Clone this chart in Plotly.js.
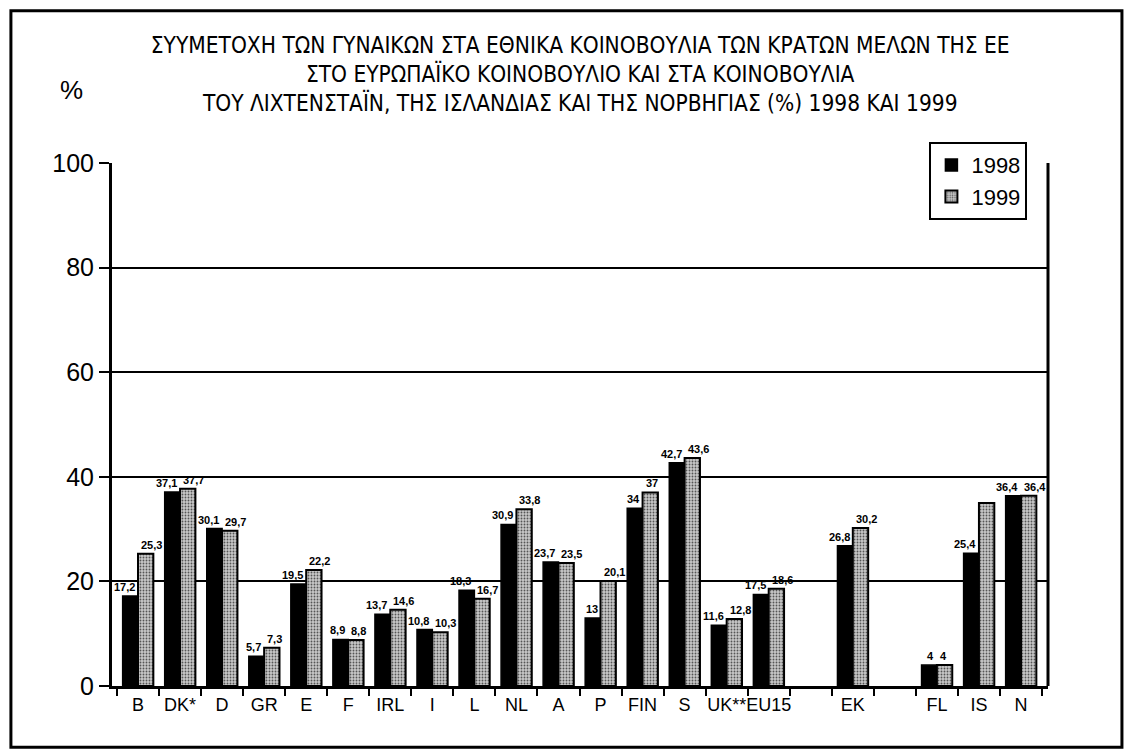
<!DOCTYPE html>
<html>
<head>
<meta charset="utf-8">
<script src="https://cdn.plot.ly/plotly-3.0.1.min.js"></script>
<style>
html,body{margin:0;padding:0;background:#fff;}
#chart{width:1131px;height:754px;}
</style>
</head>
<body>
<div id="chart"></div>
<script>
// Categories (blank entries are empty gaps in the original layout)
const categories = ['B','DK*','D','GR','E','F','IRL','I','L','NL','A','P','FIN','S','UK**','EU15',' ','EK','  ','FL','IS','N'];
const values1998 = [17.2,37.1,30.1,5.7,19.5,8.9,13.7,10.8,18.3,30.9,23.7,13,34,42.7,11.6,17.5,null,26.8,null,4,25.4,36.4];
const values1999 = [25.3,37.7,29.7,7.3,22.2,8.8,14.6,10.3,16.7,33.8,23.5,20.1,37,43.6,12.8,18.6,null,30.2,null,4,35,36.4];
const labels1998 = ['17,2','37,1','30,1','5,7','19,5','8,9','13,7','10,8','18,3','30,9','23,7','13','34','42,7','11,6','17,5','','26,8','','4','25,4','36,4'];
const labels1999 = ['25,3','37,7','29,7','7,3','22,2','8,8','14,6','10,3','16,7','33,8','23,5','20,1','37','43,6','12,8','18,6','','30,2','','4','','36,4'];
const seriesNames = ['1998','1999'];
const yTicks = [0,20,40,60,80,100];

const titleText = 'ΣΥΥΜΕΤΟΧΗ ΤΩΝ ΓΥΝΑΙΚΩΝ ΣΤΑ ΕΘΝΙΚΑ ΚΟΙΝΟΒΟΥΛΙΑ ΤΩΝ ΚΡΑΤΩΝ ΜΕΛΩΝ ΤΗΣ ΕΕ<br>' +
  'ΣΤΟ ΕΥΡΩΠΑΪΚΟ ΚΟΙΝΟΒΟΥΛΙΟ ΚΑΙ ΣΤΑ ΚΟΙΝΟΒΟΥΛΙΑ<br>' +
  'ΤΟΥ ΛΙΧΤΕΝΣΤΑΪΝ, ΤΗΣ ΙΣΛΑΝΔΙΑΣ ΚΑΙ ΤΗΣ ΝΟΡΒΗΓΙΑΣ (%) 1998 ΚΑΙ 1999';

const narrow = 'Liberation Sans Narrow, DejaVu Sans Condensed, Arial Narrow, sans-serif';
const sans = 'Liberation Sans, Arial, sans-serif';
const labelFont = {family: sans, size: 11, color: '#000', weight: 'bold'};

const traces = [
  {
    type: 'bar', name: seriesNames[0], x: categories, y: values1998,
    hoverinfo: 'x+y',
    marker: {color: '#000', line: {color: '#000', width: 1.5}}
  },
  {
    type: 'bar', name: seriesNames[1], x: categories, y: values1999,
    hoverinfo: 'x+y',
    marker: {color: '#c4c4c4', line: {color: '#000', width: 2},
      pattern: {shape: '.', fgcolor: '#555', bgcolor: '#c8c8c8', size: 3, solidity: 0.3}}
  }
];

// value labels placed above each bar (annotations so they sit on top of all bars)
const valueLabels = [];
categories.forEach((c, i) => {
  if (values1998[i] !== null && labels1998[i] !== '') {
    valueLabels.push({x: c, y: values1998[i], text: labels1998[i], showarrow: false,
      xanchor: 'right', yanchor: 'bottom', xshift: -1, yshift: 1, font: labelFont});
  }
  if (values1999[i] !== null && labels1999[i] !== '') {
    valueLabels.push({x: c, y: values1999[i], text: labels1999[i], showarrow: false,
      xanchor: 'left', yanchor: 'bottom', xshift: 1, yshift: 1, font: labelFont});
  }
});

const layout = {
  width: 1131, height: 754,
  paper_bgcolor: '#fff', plot_bgcolor: '#fff',
  margin: {l: 112, r: 83, t: 163, b: 68},
  barmode: 'group', bargap: 0.27, bargroupgap: 0,
  font: {family: sans, color: '#000'},
  title: {
    text: titleText, xref: 'container', x: 0.513, xanchor: 'center',
    yref: 'container', y: 0.93, yanchor: 'top',
    font: {family: narrow, size: 22.5, color: '#000'}
  },
  xaxis: {
    type: 'category', categoryorder: 'array', categoryarray: categories,
    tickangle: 0, tickson: 'boundaries', ticks: 'outside', ticklen: 7, tickwidth: 2, tickcolor: '#000',
    showline: true, linecolor: '#000', linewidth: 3, mirror: false,
    showgrid: false, zeroline: false,
    tickfont: {family: sans, size: 18, color: '#000'}
  },
  yaxis: {
    range: [0, 100], tickvals: yTicks, ticks: 'outside', ticklen: 10, tickwidth: 2, tickcolor: '#000',
    showline: true, linecolor: '#000', linewidth: 3,
    showgrid: true, gridcolor: '#000', gridwidth: 2, zeroline: false,
    tickfont: {family: sans, size: 25, color: '#000'}
  },
  showlegend: true,
  legend: {
    x: 0.978, xanchor: 'right', y: 1.04, yanchor: 'top',
    bgcolor: '#fff', bordercolor: '#000', borderwidth: 2,
    font: {family: sans, size: 22, color: '#000'},
    itemwidth: 30, tracegroupgap: 0
  },
  shapes: [
    {type: 'line', xref: 'paper', yref: 'paper', x0: 1, x1: 1, y0: 0, y1: 1, line: {color: '#000', width: 3}},
    {type: 'rect', xref: 'paper', yref: 'paper', x0: -0.108, x1: 1.079, y0: -0.117, y1: 1.291, line: {color: '#000', width: 3}, layer: 'below'}
  ],
  annotations: [
    {text: '%', xref: 'paper', yref: 'paper', x: -0.058, y: 1.172, showarrow: false,
     font: {family: sans, size: 26, color: '#000'}}
  ].concat(valueLabels)
};

Plotly.newPlot('chart', traces, layout, {displayModeBar: false, staticPlot: true});
</script>
</body>
</html>
